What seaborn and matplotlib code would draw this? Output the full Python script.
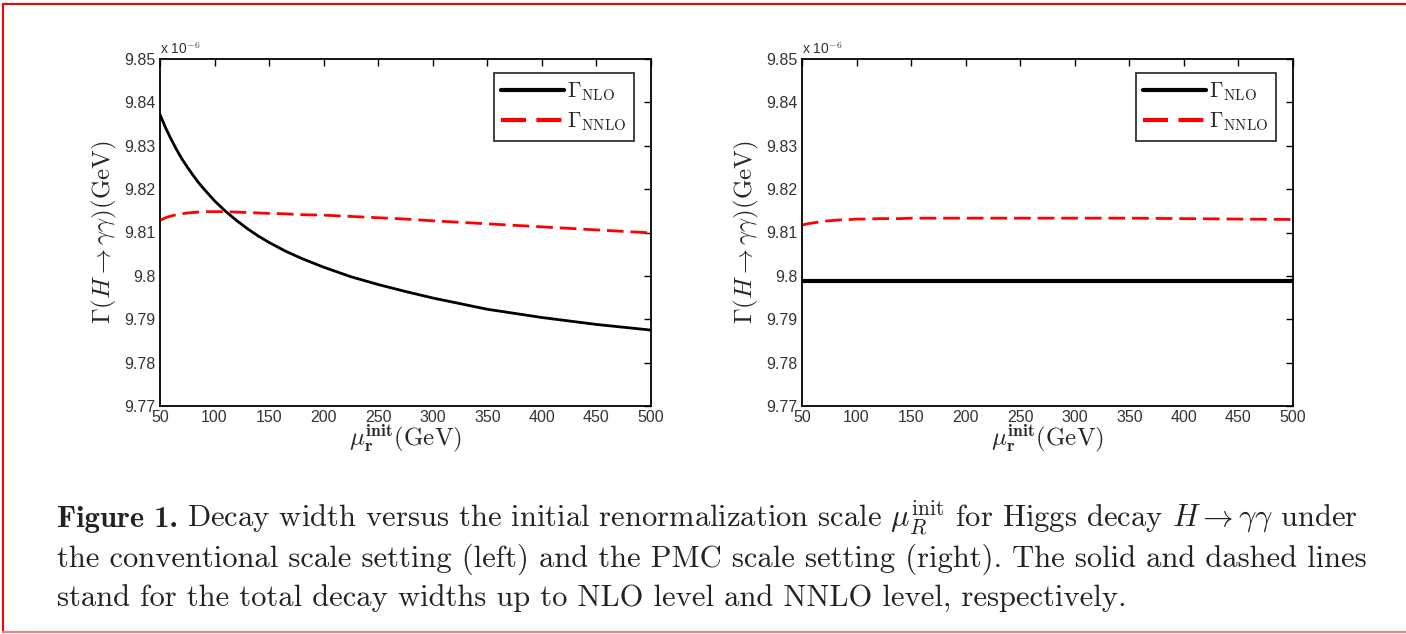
import numpy as np
import pandas as pd
import matplotlib
matplotlib.use("Agg")
import matplotlib.pyplot as plt
from matplotlib.lines import Line2D
from matplotlib.ticker import FuncFormatter
import seaborn as sns

# Initial renormalization scale (GeV)
mu_init = [50, 55, 60, 65, 70, 75, 80, 85, 90, 95, 100, 110, 120, 130, 140, 150,
           165, 180, 200, 225, 250, 275, 300, 350, 400, 450, 500]

# Decay widths in units of 1e-6 GeV -- conventional scale setting
conv_nlo = [9.8372, 9.8342, 9.8316, 9.8292, 9.8270, 9.8251, 9.8233, 9.8216, 9.8201,
            9.8187, 9.8173, 9.8149, 9.8128, 9.8109, 9.8092, 9.8077, 9.8057, 9.8040,
            9.8020, 9.7998, 9.7980, 9.7964, 9.7949, 9.7923, 9.7904, 9.7888, 9.7875]
conv_nnlo = [9.8128, 9.8134, 9.8138, 9.8141, 9.8143, 9.8145, 9.8146, 9.8147, 9.8148,
             9.8148, 9.8148, 9.8148, 9.8147, 9.8146, 9.8145, 9.8144, 9.8143, 9.8141,
             9.8140, 9.8137, 9.8134, 9.8131, 9.8127, 9.8120, 9.8113, 9.8106, 9.8099]

# Decay widths in units of 1e-6 GeV -- PMC scale setting
pmc_nlo = [9.7988] * 27
pmc_nnlo = [9.8117, 9.8120, 9.8122, 9.8124, 9.8126, 9.8127, 9.8128, 9.8129, 9.8130,
            9.8130, 9.8131, 9.8131, 9.8132, 9.8132, 9.8132, 9.8133, 9.8133, 9.8133,
            9.8133, 9.8133, 9.8133, 9.8133, 9.8133, 9.8133, 9.8132, 9.8131, 9.8130]

x_ticks = [50, 100, 150, 200, 250, 300, 350, 400, 450, 500]
y_ticks = [9.77, 9.78, 9.79, 9.80, 9.81, 9.82, 9.83, 9.84, 9.85]

sns.set_style("white")
plt.rcParams["mathtext.fontset"] = "cm"
plt.rcParams["font.family"] = ["Liberation Sans", "DejaVu Sans"]

fig = plt.figure(figsize=(14.06, 6.34), dpi=100)
fig.patch.set_facecolor("white")

W, H = 1406.0, 634.0
panels = [
    (160, conv_nlo, conv_nnlo, 2.0),
    (802, pmc_nlo, pmc_nnlo, 3.0),
]
ax_top, ax_bot = 59, 406

for left_px, nlo, nnlo, nlo_lw in panels:
    ax = fig.add_axes([left_px / W, 1 - ax_bot / H, 491 / W, (ax_bot - ax_top) / H])
    df = pd.DataFrame({"mu": mu_init, "nlo": nlo, "nnlo": nnlo})
    sns.lineplot(data=df, x="mu", y="nlo", ax=ax, color="black", lw=nlo_lw,
                 label=r"$\Gamma_{\rm NLO}$")
    sns.lineplot(data=df, x="mu", y="nnlo", ax=ax, color="#ff0000", lw=2.0,
                 dashes=False, label=r"$\Gamma_{\rm NNLO}$")
    ax.lines[1].set_linestyle((0, (6, 2.5)))

    ax.set_xlim(50, 500)
    ax.set_ylim(9.77, 9.85)
    ax.set_xticks(x_ticks)
    ax.set_yticks(y_ticks)
    ax.yaxis.set_major_formatter(FuncFormatter(lambda v, p: f"{v:g}"))
    ax.tick_params(direction="in", length=5, width=1.0, top=True, right=True,
                   labelsize=11.5, colors="black", pad=3)
    for lab in ax.get_xticklabels() + ax.get_yticklabels():
        lab.set_color("#333333")
    for sp in ax.spines.values():
        sp.set_color("black")
        sp.set_linewidth(1.3)

    ax.set_xlabel(r"$\mu_{\mathbf{r}}^{\mathbf{init}}\mathrm{(GeV)}$", fontsize=18, labelpad=-2)
    ax.set_ylabel(r"$\Gamma(H\rightarrow\gamma\gamma)\mathrm{(GeV)}$", fontsize=18, labelpad=4)
    ax.text(0.0, 1.005, r"x 10$^{-6}$", transform=ax.transAxes, fontsize=10,
            color="#333333", ha="left", va="bottom")

    leg = ax.legend(loc="upper right", bbox_to_anchor=(1 - 17 / 491, 1 - 14 / 347),
                    borderaxespad=0, fontsize=15.5, frameon=True, fancybox=False,
                    handlelength=2.9, handletextpad=0.15, borderpad=0.35,
                    labelspacing=0.35)
    leg.get_frame().set_edgecolor("black")
    leg.get_frame().set_linewidth(1.3)
    for h in leg.get_lines():
        h.set_linewidth(3.0)

# Caption below the panels
cap_kw = dict(fontsize=22, color="#222222", va="baseline")
serif = ["cmr10", "DejaVu Serif"]
lead = fig.text(57 / W, 1 - 527 / H, "Figure 1.", family=["cmb10", "DejaVu Serif"],
                ha="left", **cap_kw)
fig.canvas.draw()
lead_right = lead.get_window_extent().x1 / W
fig.text(lead_right + 9 / W, 1 - 527 / H,
         r"Decay width versus the initial renormalization scale $\mu_R^{\rm init}$ for Higgs decay $H \rightarrow \gamma\gamma$ under",
         family=serif, ha="left", **cap_kw)
fig.text(57 / W, 1 - 567 / H,
         "the conventional scale setting (left) and the PMC scale setting (right). The solid and dashed lines",
         family=serif, ha="left", **cap_kw)
fig.text(57 / W, 1 - 607 / H,
         "stand for the total decay widths up to NLO level and NNLO level, respectively.",
         family=serif, ha="left", **cap_kw)

# Red frame around the figure
fig.add_artist(Line2D([3 / W, 1.0], [1 - 4 / H, 1 - 4 / H], color="#ff0000", lw=1.5))
fig.add_artist(Line2D([3 / W, 3 / W], [1 - 4 / H, 1 - 632 / H], color="#ff0000", lw=1.5))
fig.add_artist(Line2D([3 / W, 1.0], [1 - 632 / H, 1 - 632 / H], color="#f08080", lw=1.5))

fig.savefig("out.png", dpi=100)
